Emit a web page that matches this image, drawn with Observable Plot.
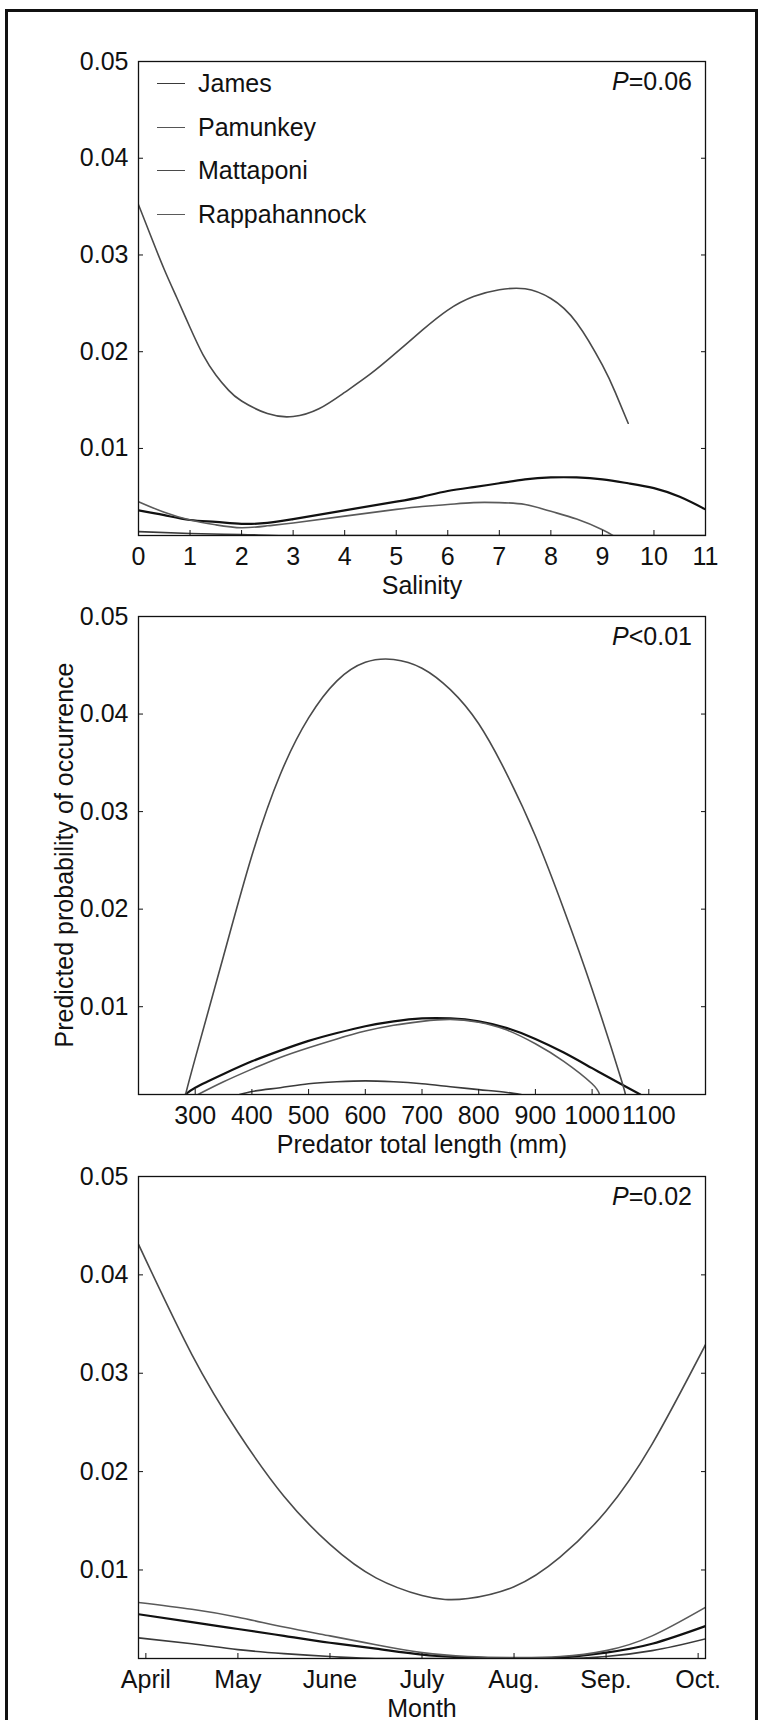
<!DOCTYPE html>
<html><head><meta charset="utf-8">
<script src="https://cdn.jsdelivr.net/npm/d3@7"></script>
<script src="https://cdn.jsdelivr.net/npm/@observablehq/plot@0.6"></script>
<style>
body{margin:0;background:#fff;}
#fig{position:relative;width:760px;height:1720px;overflow:hidden;font-family:"Liberation Sans",Arial,Helvetica,sans-serif;color:#111;background:#fff;}
.border{position:absolute;left:5px;top:9px;width:753px;height:1740px;border:3px solid #111;box-sizing:border-box;}
.panel{position:absolute;left:0;}
.title{position:absolute;font-size:25px;transform:translate(-50%,-50%);white-space:nowrap;}
.ytitle{position:absolute;font-size:25px;transform:translate(-50%,-50%) rotate(-90deg);white-space:nowrap;}
.plabel{position:absolute;font-size:25px;white-space:nowrap;transform:translate(-100%,-50%);}
.legend{position:absolute;left:157px;top:61px;font-size:25px;}
.legend .row{position:absolute;left:0;height:0;white-space:nowrap;}
.legend .sw{position:absolute;left:0;top:0;width:28px;height:0;}
.legend .lab{position:absolute;left:41px;top:0;transform:translateY(-50%);}
</style></head>
<body>
<div id="fig"><div class="border"></div></div>
<script>
// ---------------- data ----------------
const rivers = ["James", "Pamunkey", "Mattaponi", "Rappahannock"];
const riverColors = ["#3a3a3a", "#111111", "#4a4a4a", "#5a5a5a"];
const riverWidths = [1.6, 2.2, 1.6, 1.6];

const yTicks = [0.01, 0.02, 0.03, 0.04, 0.05];
const yTickLabels = ["0.01", "0.02", "0.03", "0.04", "0.05"];

// Panel 1: salinity
const salinityTicks = [0, 1, 2, 3, 4, 5, 6, 7, 8, 9, 10, 11];
const salX_James = [0, 1, 2, 3, 11];
const salY_James = [0.0014, 0.0012, 0.0011, 0.0010, 0.0010];
const salX_Pamunkey = [0, 0.5, 1, 1.5, 2, 2.5, 3, 4, 5, 5.5, 6, 6.5, 7, 7.5, 8, 8.5, 9, 9.5, 10, 10.5, 11];
const salY_Pamunkey = [0.0036, 0.0031, 0.0026, 0.0024, 0.0022, 0.0023, 0.0027, 0.0036, 0.0045, 0.0050, 0.0056, 0.0060, 0.0064, 0.0068, 0.0070, 0.0070, 0.0068, 0.0064, 0.0059, 0.0050, 0.0037];
const salX_Mattaponi = [0, 0.25, 0.5, 0.75, 1, 1.25, 1.5, 1.75, 2, 2.5, 3, 3.5, 4, 4.5, 5, 5.5, 6, 6.5, 7, 7.5, 8, 8.5, 9, 9.25, 9.5];
const salY_Mattaponi = [0.0352, 0.0318, 0.0285, 0.0255, 0.0225, 0.0197, 0.0176, 0.0160, 0.0149, 0.0136, 0.0133, 0.0141, 0.0158, 0.0177, 0.0199, 0.0222, 0.0243, 0.0257, 0.0264, 0.0265, 0.0255, 0.0230, 0.0186, 0.0158, 0.0126];
const salX_Rappahannock = [0, 0.5, 1, 1.5, 2, 2.5, 3, 4, 5, 5.5, 6, 6.5, 7, 7.5, 8, 8.5, 9, 9.2];
const salY_Rappahannock = [0.0045, 0.0034, 0.0026, 0.0021, 0.0018, 0.0020, 0.0023, 0.0030, 0.0037, 0.0040, 0.0042, 0.0044, 0.0044, 0.0042, 0.0035, 0.0027, 0.0016, 0.0010];

// Panel 2: predator total length (mm)
const lengthTicks = [300, 400, 500, 600, 700, 800, 900, 1000, 1100];
const lenX_James = [378, 400, 450, 500, 550, 600, 650, 700, 750, 800, 850, 875];
const lenY_James = [0.0010, 0.0013, 0.0017, 0.0021, 0.0023, 0.0024, 0.0023, 0.0021, 0.0018, 0.0015, 0.0012, 0.0010];
const lenX_Pamunkey = [283, 300, 350, 400, 450, 500, 550, 600, 650, 700, 750, 800, 850, 900, 950, 1000, 1050, 1085];
const lenY_Pamunkey = [0.0010, 0.0017, 0.0031, 0.0044, 0.0055, 0.0065, 0.0073, 0.0080, 0.0085, 0.0088, 0.0088, 0.0085, 0.0078, 0.0067, 0.0053, 0.0037, 0.0021, 0.0010];
const lenX_Mattaponi = [283, 300, 350, 400, 450, 500, 550, 600, 650, 700, 750, 800, 850, 900, 950, 1000, 1050, 1058];
const lenY_Mattaponi = [0.0010, 0.0047, 0.0152, 0.0255, 0.0338, 0.0396, 0.0434, 0.0453, 0.0456, 0.0447, 0.0425, 0.0390, 0.0338, 0.0275, 0.0200, 0.0118, 0.0028, 0.0010];
const lenX_Rappahannock = [305, 350, 400, 450, 500, 550, 600, 650, 700, 750, 800, 850, 900, 950, 1000, 1013];
const lenY_Rappahannock = [0.0010, 0.0023, 0.0036, 0.0048, 0.0058, 0.0067, 0.0075, 0.0081, 0.0085, 0.0087, 0.0084, 0.0076, 0.0062, 0.0044, 0.0021, 0.0010];

// Panel 3: month (4 = April ... 10 = October)
const monthTicks = [4, 5, 6, 7, 8, 9, 10];
const monthLabels = ["April", "May", "June", "July", "Aug.", "Sep.", "Oct."];
const monX = [3.92, 4.5, 5, 5.5, 6, 6.5, 7, 7.5, 8, 8.5, 9, 9.5, 10.08];
const monY_James = [0.0031, 0.0025, 0.0019, 0.0015, 0.0012, 0.0010, 0.0010, 0.0010, 0.0010, 0.0010, 0.0012, 0.0018, 0.0030];
const monY_Pamunkey = [0.0055, 0.0047, 0.0040, 0.0033, 0.0026, 0.0020, 0.0014, 0.0011, 0.0010, 0.0011, 0.0016, 0.0025, 0.0043];
const monX_Mattaponi = [3.92, 4.5, 5, 5.5, 6, 6.5, 7, 7.25, 7.5, 8, 8.5, 9, 9.5, 10.08];
const monY_Mattaponi = [0.0431, 0.0319, 0.0240, 0.0175, 0.0126, 0.0092, 0.0074, 0.0070, 0.0071, 0.0083, 0.0113, 0.0160, 0.0228, 0.0329];
const monY_Rappahannock = [0.0067, 0.0060, 0.0052, 0.0042, 0.0033, 0.0024, 0.0016, 0.0012, 0.0011, 0.0012, 0.0018, 0.0033, 0.0062];

const pLabels = ["=0.06", "<0.01", "=0.02"];
const xTitles = ["Salinity", "Predator total length (mm)", "Month"];
const yTitle = "Predicted probability of occurrence";

// ---------------- build ----------------
function rows(river, xs, ys) { return xs.map((x, i) => ({river, x, y: ys[i]})); }
const panels = [
  {
    series: [rows("James", salX_James, salY_James), rows("Pamunkey", salX_Pamunkey, salY_Pamunkey),
             rows("Mattaponi", salX_Mattaponi, salY_Mattaponi), rows("Rappahannock", salX_Rappahannock, salY_Rappahannock)],
    xDomain: [0, 11], xTicks: salinityTicks, xFormat: d => String(d), top: 61, h: 474
  },
  {
    series: [rows("James", lenX_James, lenY_James), rows("Pamunkey", lenX_Pamunkey, lenY_Pamunkey),
             rows("Mattaponi", lenX_Mattaponi, lenY_Mattaponi), rows("Rappahannock", lenX_Rappahannock, lenY_Rappahannock)],
    xDomain: [200, 1200], xTicks: lengthTicks, xFormat: d => String(d), top: 616, h: 478
  },
  {
    series: [rows("James", monX, monY_James), rows("Pamunkey", monX, monY_Pamunkey),
             rows("Mattaponi", monX_Mattaponi, monY_Mattaponi), rows("Rappahannock", monX, monY_Rappahannock)],
    xDomain: [3.92, 10.08], xTicks: monthTicks, xFormat: d => monthLabels[monthTicks.indexOf(d)], top: 1176, h: 482
  }
];

const fig = document.getElementById("fig");
const FONT = '"Liberation Sans", Arial, Helvetica, sans-serif';
const MT = 10, MB = 46, ML = 138, MR = 55;

panels.forEach((p, k) => {
  const chart = Plot.plot({
    width: 760, height: MT + p.h + MB,
    marginLeft: ML, marginRight: MR, marginTop: MT, marginBottom: MB,
    style: {fontFamily: FONT, fontSize: "25px", color: "#111", background: "transparent", overflow: "visible"},
    x: {domain: p.xDomain},
    y: {domain: [0.001, 0.05]},
    marks: [
      ...p.series.map((s, i) => Plot.line(s, {
        x: "x", y: "y", stroke: riverColors[i], strokeWidth: riverWidths[i],
        curve: i === 0 ? "monotone-x" : "natural", clip: true
      })),
      Plot.frame({stroke: "#111", strokeWidth: 1.3}),
      Plot.axisY(yTicks, {anchor: "left", tickSize: 0, tickPadding: 10, label: null,
        tickFormat: d => yTickLabels[yTicks.indexOf(d)]}),
      Plot.axisY(yTicks, {anchor: "left", tickSize: -5, label: null, tickFormat: () => ""}),
      Plot.axisY(yTicks, {anchor: "right", tickSize: -5, label: null, tickFormat: () => ""}),
      Plot.axisX(p.xTicks, {anchor: "bottom", tickSize: 0, tickPadding: 12, label: null, tickFormat: p.xFormat}),
      Plot.axisX(p.xTicks, {anchor: "bottom", tickSize: -5, label: null, tickFormat: () => ""})
    ]
  });
  const wrap = document.createElement("div");
  wrap.className = "panel";
  wrap.style.top = (p.top - MT) + "px";
  wrap.appendChild(chart);
  fig.appendChild(wrap);

  const t = document.createElement("div");
  t.className = "title";
  t.style.left = "422px";
  t.style.top = (p.top + p.h + 50) + "px";
  t.textContent = xTitles[k];
  fig.appendChild(t);

  const pl = document.createElement("div");
  pl.className = "plabel";
  pl.style.left = "692px";
  pl.style.top = (p.top + 20) + "px";
  pl.innerHTML = "<i>P</i>" + pLabels[k];
  fig.appendChild(pl);
});

const yt = document.createElement("div");
yt.className = "ytitle";
yt.style.left = "64px";
yt.style.top = "855px";
yt.textContent = yTitle;
fig.appendChild(yt);

const lg = document.createElement("div");
lg.className = "legend";
rivers.forEach((r, i) => {
  const row = document.createElement("div");
  row.className = "row";
  row.style.top = (22 + i * 43.5) + "px";
  const sw = document.createElement("div");
  sw.className = "sw";
  sw.style.borderTop = "1.5px solid " + (i === 1 ? "#555" : riverColors[i]);
  const lab = document.createElement("div");
  lab.className = "lab";
  lab.textContent = r;
  row.appendChild(sw); row.appendChild(lab);
  lg.appendChild(row);
});
fig.appendChild(lg);
</script>
</body></html>
